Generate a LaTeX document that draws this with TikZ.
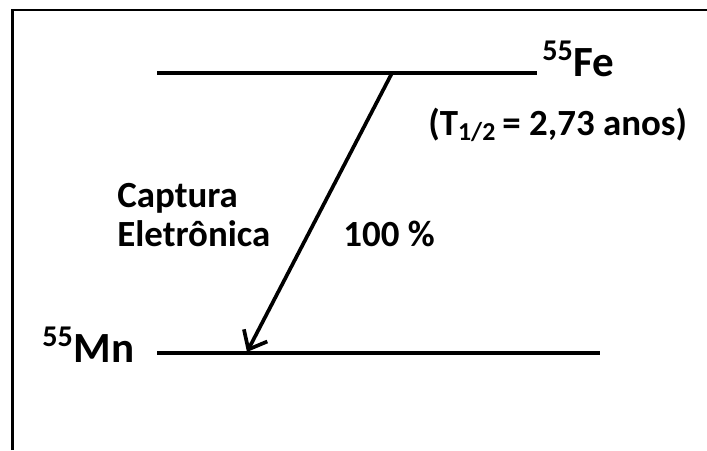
\documentclass[tikz,border=0pt]{standalone}
\usepackage{fontspec}
\setmainfont{Carlito}
\usetikzlibrary{arrows.meta}
\begin{document}
\begin{tikzpicture}[x=0.02cm,y=-0.02cm,
  level/.style={line width=2.6pt},
  frameline/.style={line width=1.7pt},
  big/.style={font=\fontsize{24.5}{28}\selectfont\bfseries, inner sep=0pt},
  mid/.style={font=\fontsize{21}{25}\selectfont\bfseries, inner sep=0pt},
  decay/.style={line width=2.1pt, -{Straight Barb[length=9pt,width=15pt,line width=2.1pt]}}]
\useasboundingbox (0,0) rectangle (707,450);
\draw[frameline] (12.5,450) -- (12.5,10) -- (707,10);
% levels
\coordinate (feL) at (157,73);
\coordinate (feR) at (537,73);
\coordinate (mnL) at (157,353);
\coordinate (mnR) at (600,353);
\draw[level] (feL) -- (feR);
\draw[level] (mnL) -- (mnR);
% arrow
\coordinate (src) at (392,73);
\coordinate (dst) at (247,352);
\draw[decay] (src) -- (dst);
% labels
\node[big, anchor=base west] (fe) at (542,76) {\textsuperscript{55}Fe};
\node[mid, anchor=base west] (half) at (428,135) {(T\textsubscript{1/2}\,= 2,73 anos)};
\node[mid, anchor=base west] (cap) at (117,207) {Captura};
\node[mid, anchor=base west] (ele) at (117,246) {Eletrônica};
\node[mid, anchor=base west] (pct) at (343,246) {100 \%};
\node[big, anchor=base west] (mn) at (42,362) {\textsuperscript{55}Mn};
\end{tikzpicture}
\end{document}
